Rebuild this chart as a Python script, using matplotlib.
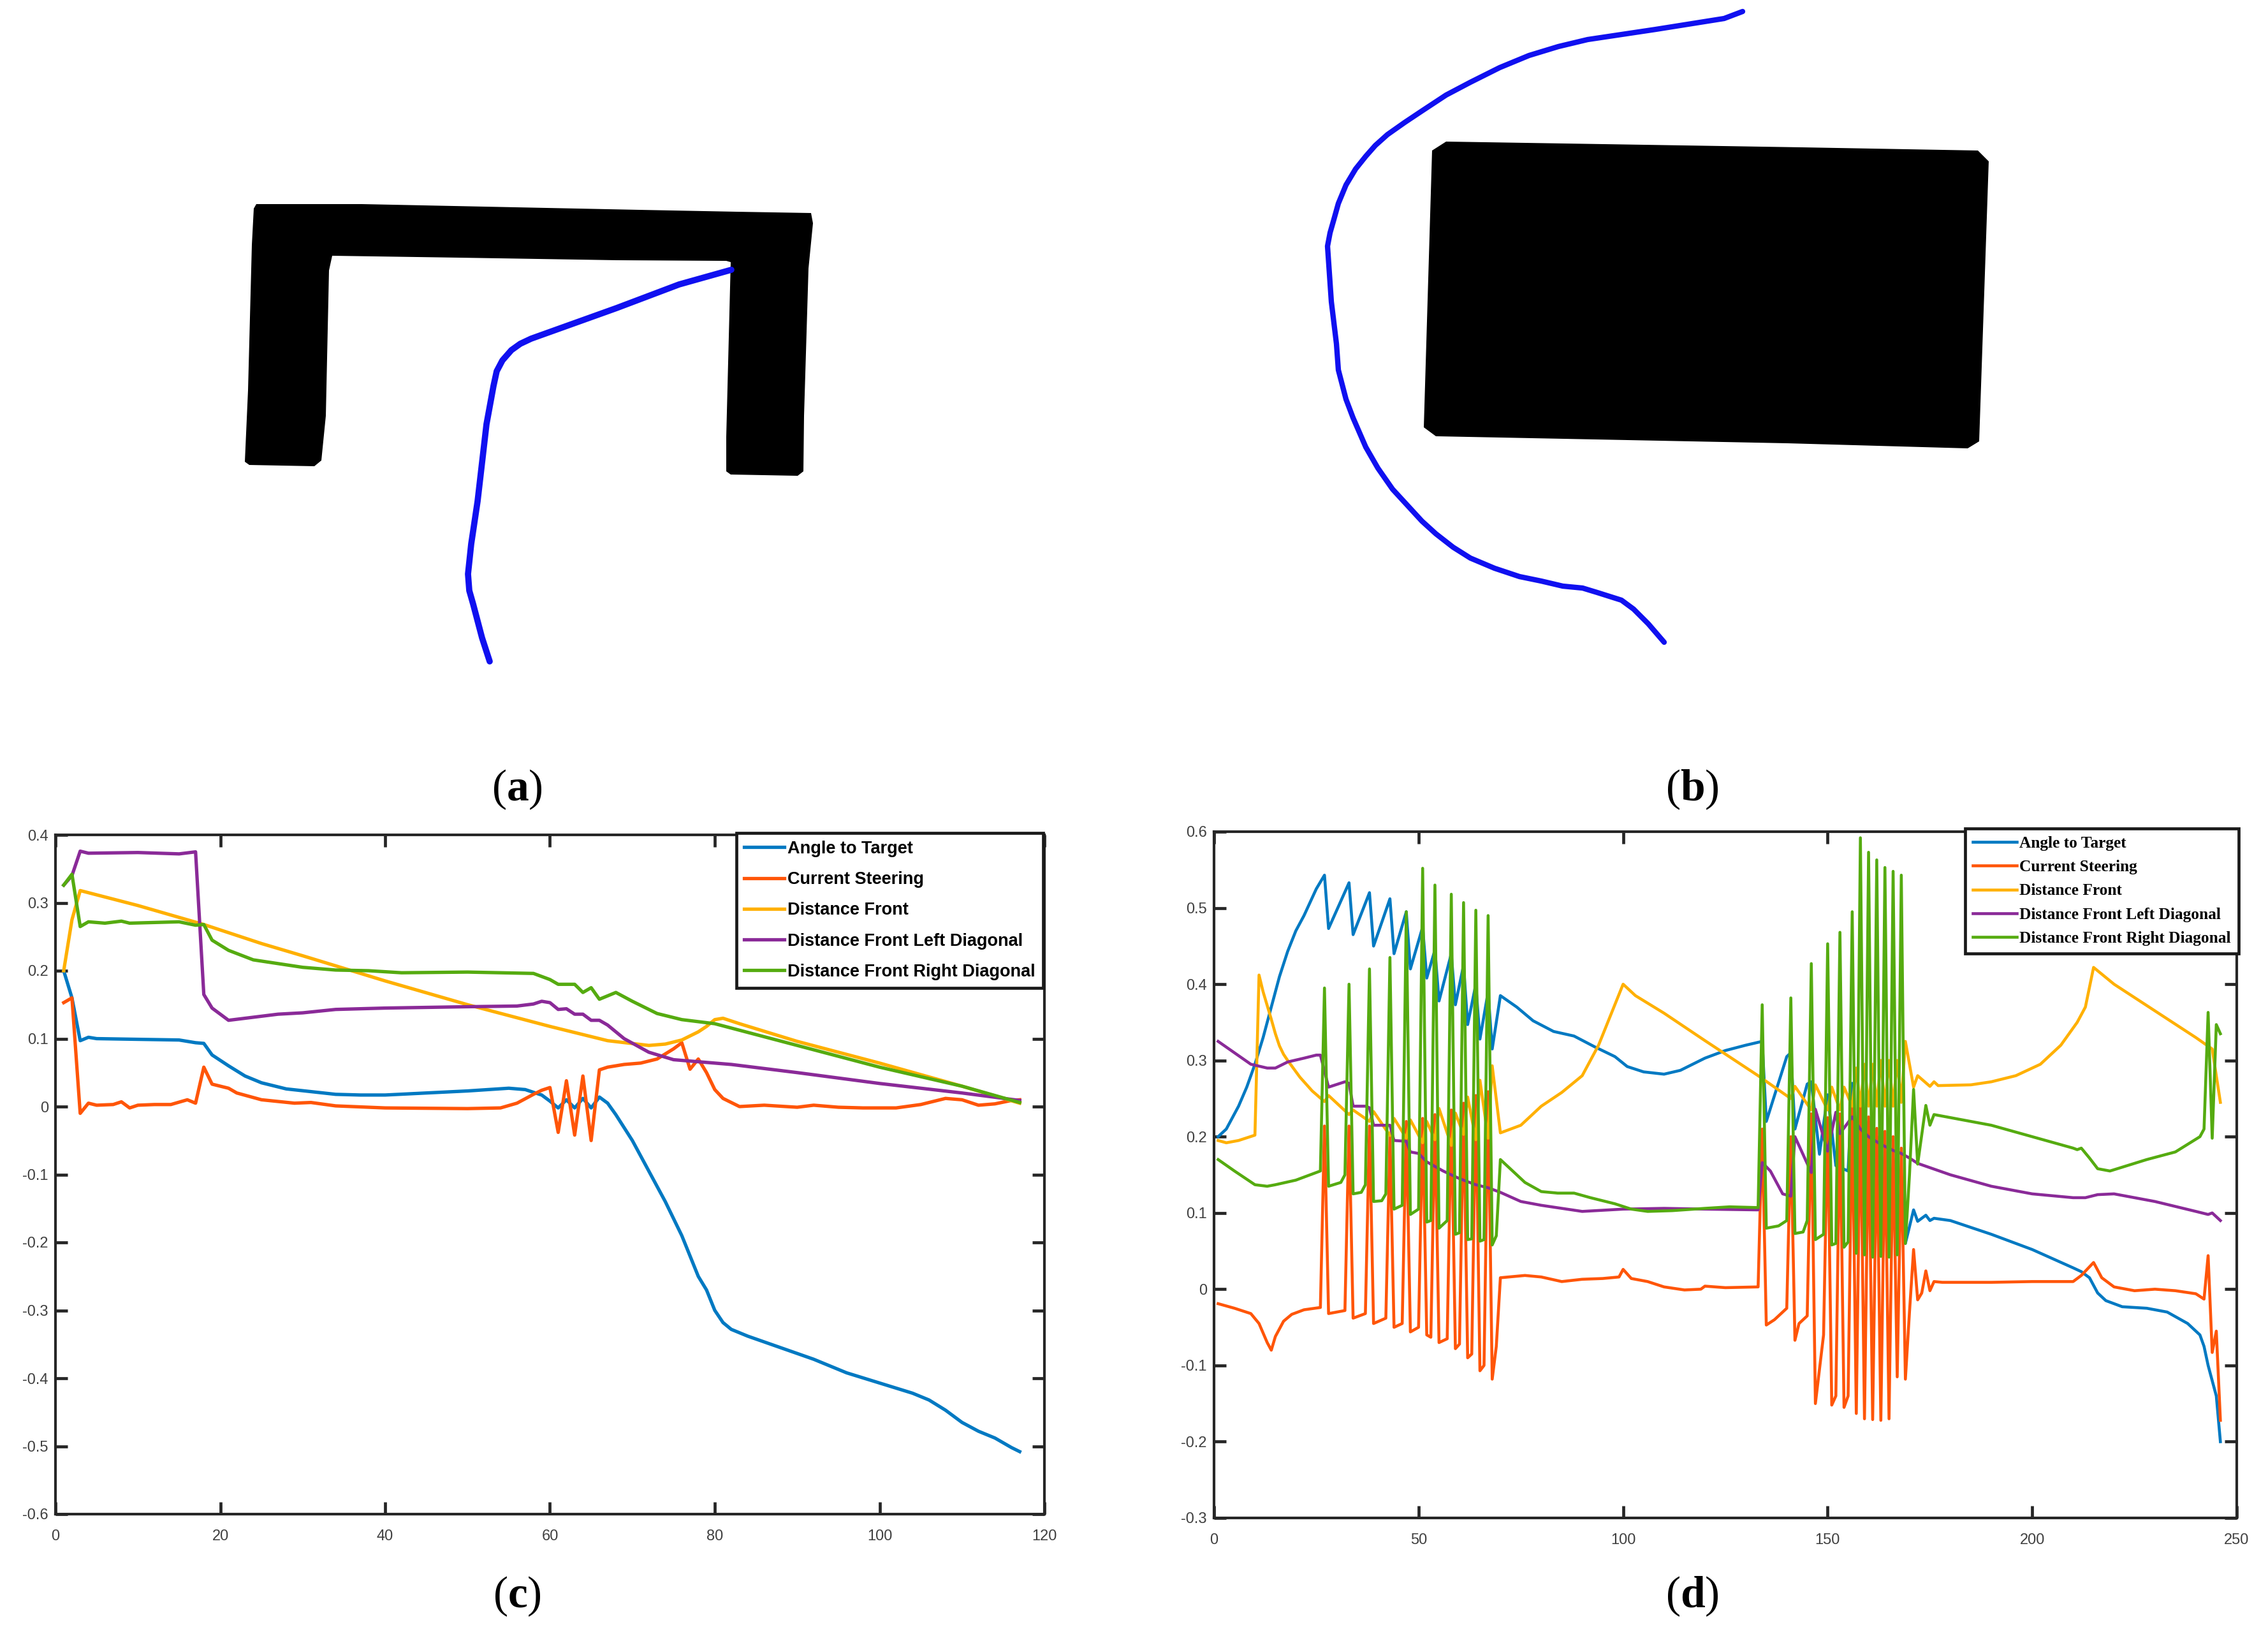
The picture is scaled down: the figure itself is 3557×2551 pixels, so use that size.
import matplotlib
matplotlib.use('Agg')
import matplotlib.pyplot as plt

W, H = 3557, 2551

# colours of the matlab lines as they look in the picture
colors = ['#0079C2', '#FF5508', '#FFB000', '#8A2A98', '#55AB10']
names = ['Angle to Target', 'Current Steering', 'Distance Front',
         'Distance Front Left Diagonal', 'Distance Front Right Diagonal']

# (a) and (b) are drawn in picture pixels
wall_a_x = [402, 567, 1002, 1156, 1272, 1275, 1268, 1261, 1260, 1251, 1146, 1139, 1139, 1146, 1139, 967, 721, 521, 516, 511, 504, 493, 391, 384, 389, 395, 398]
wall_a_y = [320, 320, 329, 332, 334, 350, 421, 652, 739, 746, 744, 739, 685, 411, 409, 408, 404, 401, 424, 652, 722, 731, 729, 724, 612, 384, 327]
path_a_x = [1147, 1065, 967, 833, 816, 802, 788, 779, 774, 763, 749, 739, 734, 736, 742, 756, 768]
path_a_y = [423, 446, 483, 531, 539, 549, 565, 582, 605, 665, 786, 853, 900, 926, 947, 1000, 1037]
block_b_x = [2268, 2826, 3102, 3119, 3104, 3086, 2803, 2252, 2233, 2246]
block_b_y = [222, 231, 236, 253, 692, 703, 695, 684, 670, 236]
path_b_x = [2733, 2704, 2597, 2490, 2444, 2398, 2352, 2306, 2268, 2230, 2203, 2176, 2157, 2142, 2126, 2111, 2099, 2092, 2086, 2082, 2088, 2096, 2099, 2111, 2122, 2142, 2161, 2184, 2207, 2230, 2252, 2279, 2306, 2344, 2383, 2417, 2451, 2482, 2505, 2543, 2562, 2585, 2610]
path_b_y = [18, 29, 46, 62, 73, 87, 106, 129, 149, 174, 192, 211, 228, 245, 265, 290, 319, 344, 365, 386, 473, 539, 580, 626, 655, 701, 734, 767, 792, 817, 837, 858, 875, 891, 904, 911, 919, 922, 929, 941, 955, 978, 1007]

# (c)
c_angle_x = [1, 2, 3, 4, 5, 10, 15, 17, 18, 19, 21, 23, 25, 28, 31, 34, 37, 40, 45, 50, 55, 57, 59, 60, 61, 62, 63, 64, 65, 66, 67, 68, 70, 72, 74, 76, 77, 78, 79, 80, 81, 82, 84, 88, 92, 96, 100, 104, 106, 108, 110, 112, 114, 116, 117]
c_angle_y = [.2, .16, .097, .102, .1, .099, .098, .094, .093, .076, .06, .045, .035, .026, .022, .018, .017, .017, .02, .023, .027, .025, .017, .008, -.002, .01, -.002, .012, -.002, .014, .005, -.012, -.05, -.095, -.14, -.19, -.22, -.25, -.27, -.3, -.318, -.328, -.338, -.355, -.372, -.392, -.407, -.422, -.432, -.447, -.465, -.478, -.488, -.502, -.508]
c_steer_x = [1, 2, 3, 4, 5, 7, 8, 9, 10, 12, 14, 16, 17, 18, 19, 21, 22, 25, 29, 31, 34, 40, 50, 54, 56, 58, 59, 60, 61, 62, 63, 64, 65, 66, 67, 69, 71, 73, 75, 76, 77, 78, 79, 80, 81, 83, 86, 90, 92, 95, 98, 102, 105, 108, 110, 112, 114, 116, 117]
c_steer_y = [.153, .16, -.01, .005, .002, .003, .007, -.002, .002, .003, .003, .01, .005, .058, .033, .027, .02, .01, .005, .006, .001, -.002, -.003, -.002, .005, .018, .024, .028, -.038, .038, -.042, .045, -.05, .054, .058, .062, .064, .07, .085, .094, .055, .07, .05, .025, .012, 0, .002, -.001, .002, -.001, -.002, -.002, .003, .012, .01, .002, .004, .009, .01]
c_front_x = [1, 2, 3, 10, 18, 25, 30, 40, 50, 60, 65, 67, 72, 74, 76, 78, 79, 80, 81, 83, 90, 100, 110, 117]
c_front_y = [.2, .275, .318, .296, .268, .24, .222, .185, .15, .118, .103, .097, .09, .092, .098, .11, .118, .128, .13, .122, .096, .064, .03, .005]
c_left_x = [1, 2, 3, 4, 10, 15, 17, 18, 19, 21, 23, 27, 30, 34, 40, 50, 56, 58, 59, 60, 61, 62, 63, 64, 65, 66, 67, 69, 72, 75, 78, 82, 90, 100, 110, 117]
c_left_y = [.326, .34, .376, .373, .374, .372, .375, .165, .145, .127, .13, .136, .138, .143, .145, .147, .148, .151, .155, .153, .143, .144, .136, .136, .127, .127, .12, .1, .08, .069, .066, .062, .05, .034, .02, .009]
c_right_x = [1, 2, 3, 4, 6, 8, 9, 15, 17, 18, 19, 21, 24, 30, 34, 38, 42, 50, 58, 60, 61, 63, 64, 65, 66, 68, 70, 73, 76, 80, 90, 100, 110, 117]
c_right_y = [.326, .342, .265, .272, .27, .273, .27, .272, .267, .268, .245, .23, .216, .205, .201, .2, .197, .198, .196, .187, .18, .18, .168, .175, .158, .168, .155, .137, .128, .122, .09, .058, .03, .006]

# (d)
d_angle_x = [1, 3, 4, 6, 8, 10, 12, 14, 16, 18, 20, 22, 25, 27, 28, 33, 34, 38, 39, 43, 44, 47, 48, 51, 52, 54, 55, 58, 59, 61, 62, 64, 65, 67, 68, 70, 74, 78, 83, 88, 93, 98, 101, 105, 110, 114, 120, 125, 130, 134, 135, 140, 141, 142, 145, 146, 148, 150, 152, 155, 156, 157, 158, 159, 160, 161, 162, 163, 164, 165, 166, 167, 168, 169, 171, 172, 174, 175, 176, 180, 190, 200, 210, 212, 214, 216, 218, 222, 228, 233, 238, 241, 242, 243, 244, 245, 246]
d_angle_y = [.2, .21, .22, .24, .265, .295, .33, .37, .41, .443, .47, .49, .525, .543, .473, .533, .465, .52, .45, .512, .44, .495, .42, .475, .408, .445, .378, .44, .373, .425, .347, .4, .328, .39, .315, .385, .37, .352, .338, .332, .318, .305, .292, .285, .282, .287, .303, .313, .32, .325, .22, .305, .31, .21, .269, .272, .177, .255, .162, .155, .27, .14, .24, .12, .22, .1, .2, .09, .18, .08, .16, .07, .14, .06, .104, .089, .097, .09, .093, .09, .072, .052, .028, .023, .015, -.005, -.015, -.023, -.025, -.03, -.045, -.06, -.075, -.1, -.12, -.14, -.2]
d_steer_x = [1, 5, 9, 11, 13, 14, 15, 17, 19, 22, 26, 27, 28, 32, 33, 34, 37, 38, 39, 42, 43, 44, 46, 47, 48, 50, 51, 52, 53, 54, 55, 57, 58, 59, 60, 61, 62, 63, 64, 65, 66, 67, 68, 69, 70, 72, 76, 80, 85, 90, 95, 99, 100, 102, 106, 110, 115, 119, 120, 125, 133, 134, 135, 137, 139, 140, 141, 142, 143, 145, 146, 147, 149, 150, 151, 152, 153, 154, 155, 156, 157, 158, 159, 160, 161, 162, 163, 164, 165, 166, 167, 168, 169, 170, 171, 172, 173, 174, 175, 176, 178, 190, 200, 210, 212, 215, 217, 220, 225, 230, 235, 240, 242, 243, 244, 245, 246]
d_steer_y = [-.019, -.025, -.032, -.045, -.07, -.08, -.062, -.042, -.033, -.027, -.024, .214, -.032, -.028, .214, -.038, -.032, .214, -.045, -.038, .201, -.05, -.045, .22, -.056, -.05, .224, -.06, -.063, .229, -.07, -.065, .235, -.078, -.072, .244, -.09, -.085, .254, -.107, -.1, .259, -.118, -.075, .015, .016, .018, .016, .01, .013, .014, .016, .026, .014, .01, .003, -.001, 0, .004, .002, .003, .21, -.047, -.04, -.03, -.025, .2, -.067, -.045, -.035, .23, -.15, -.06, .225, -.152, -.14, .23, -.155, -.14, .245, -.163, .25, -.17, .226, -.171, .211, -.172, .207, -.17, .2, -.115, .185, -.118, -.03, .052, -.014, -.005, .024, -.002, .01, .009, .009, .01, .01, .018, .035, .015, .003, -.002, 0, -.002, -.006, -.013, .044, -.083, -.055, -.172]
d_front_x = [1, 3, 6, 10, 11, 12, 13, 14, 15, 16, 17, 18, 21, 24, 27, 28, 33, 34, 38, 39, 43, 44, 47, 48, 51, 52, 54, 55, 58, 59, 61, 62, 64, 65, 67, 68, 70, 75, 80, 85, 90, 94, 97, 100, 103, 110, 120, 133, 141, 142, 146, 147, 150, 151, 153, 154, 156, 157, 158, 159, 160, 161, 162, 163, 164, 165, 166, 167, 168, 169, 171, 172, 175, 176, 177, 185, 190, 196, 202, 207, 211, 213, 215, 220, 230, 240, 244, 246]
d_front_y = [.195, .192, .195, .202, .412, .39, .372, .354, .335, .319, .308, .3, .278, .26, .246, .254, .229, .235, .22, .233, .2015, .224, .198, .222, .192, .22, .196, .237, .1885, .231, .203, .252, .196, .274, .198, .293, .205, .215, .24, .258, .28, .32, .36, .4, .385, .362, .326, .28, .25, .266, .235, .268, .235, .265, .235, .265, .24, .29, .24, .295, .24, .295, .24, .3, .24, .3, .24, .3, .245, .325, .265, .28, .266, .272, .267, .268, .272, .28, .295, .32, .35, .37, .422, .4, .365, .33, .315, .245]
d_left_x = [1, 5, 9, 13, 15, 18, 22, 25, 26, 28, 32, 33, 34, 37, 38, 39, 43, 44, 47, 48, 50, 52, 56, 60, 64, 67, 70, 75, 80, 90, 100, 110, 120, 133, 134, 136, 139, 141, 142, 146, 147, 150, 152, 153, 156, 158, 160, 163, 166, 168, 170, 172, 180, 190, 200, 210, 213, 216, 220, 230, 240, 243, 244, 246]
d_left_y = [.325, .31, .295, .29, .29, .298, .303, .307, .307, .265, .272, .27, .24, .24, .238, .215, .215, .195, .194, .18, .178, .167, .155, .145, .137, .133, .127, .115, .11, .102, .105, .106, .105, .104, .166, .155, .125, .122, .2, .153, .236, .181, .232, .204, .226, .21, .2, .19, .182, .178, .172, .165, .15, .135, .125, .12, .12, .124, .125, .115, .102, .098, .1, .09]
d_right_x = [1, 5, 10, 13, 15, 20, 26, 27, 28, 31, 32, 33, 34, 36, 37, 38, 39, 41, 42, 43, 44, 46, 47, 48, 50, 51, 52, 53, 54, 55, 57, 58, 59, 60, 61, 62, 63, 64, 65, 66, 67, 68, 69, 70, 72, 76, 80, 84, 88, 92, 98, 102, 106, 112, 120, 126, 133, 134, 135, 138, 140, 141, 142, 144, 145, 146, 147, 149, 150, 151, 152, 153, 154, 155, 156, 157, 158, 159, 160, 161, 162, 163, 164, 165, 166, 167, 168, 169, 170, 171, 172, 174, 175, 176, 190, 200, 210, 211, 212, 214, 216, 219, 222, 228, 235, 241, 242, 243, 244, 245, 246]
d_right_y = [.17, .155, .137, .135, .137, .143, .155, .395, .135, .14, .15, .4, .125, .127, .137, .42, .115, .116, .125, .435, .105, .11, .495, .098, .105, .552, .088, .09, .53, .08, .09, .518, .072, .074, .507, .065, .066, .497, .063, .065, .49, .058, .07, .17, .16, .14, .128, .126, .126, .12, .112, .105, .102, .103, .106, .108, .107, .373, .08, .083, .09, .382, .073, .075, .09, .427, .065, .072, .453, .058, .06, .468, .055, .062, .495, .047, .592, .045, .573, .042, .563, .043, .553, .042, .548, .045, .543, .06, .15, .262, .164, .241, .215, .229, .215, .2, .185, .183, .185, .172, .158, .155, .16, .17, .18, .2, .21, .363, .198, .347, .335]

c_xticks = [0, 20, 40, 60, 80, 100, 120]
c_yticks = [-.6, -.5, -.4, -.3, -.2, -.1, 0, .1, .2, .3, .4]
c_ylabels = ['-0.6', '-0.5', '-0.4', '-0.3', '-0.2', '-0.1', '0', '0.1', '0.2', '0.3', '0.4']
d_xticks = [0, 50, 100, 150, 200, 250]
d_yticks = [-.3, -.2, -.1, 0, .1, .2, .3, .4, .5, .6]
d_ylabels = ['-0.3', '-0.2', '-0.1', '0', '0.1', '0.2', '0.3', '0.4', '0.5', '0.6']

plt.rcParams['font.family'] = 'Liberation Sans'
plt.rcParams['mathtext.fontset'] = 'custom'
plt.rcParams['mathtext.rm'] = 'Liberation Serif'
plt.rcParams['mathtext.bf'] = 'Liberation Serif:bold'

fig = plt.figure(figsize=(W / 100, H / 100), dpi=100)


def pixel_axes(left, top, right, bottom):
    return fig.add_axes([left / W, 1 - bottom / H, (right - left) / W, (bottom - top) / H])


# background layer for the two maps and the captions
bg = fig.add_axes([0, 0, 1, 1])
bg.set_xlim(0, W)
bg.set_ylim(H, 0)
bg.axis('off')
bg.fill(wall_a_x, wall_a_y, color='black', lw=0)
bg.fill(block_b_x, block_b_y, color='black', lw=0)
bg.plot(path_a_x, path_a_y, color='#1010F0', lw=7, solid_capstyle='round', solid_joinstyle='round')
bg.plot(path_b_x, path_b_y, color='#1010F0', lw=6, solid_capstyle='round', solid_joinstyle='round')
for x, y, letter in [(811, 1238, 'a'), (2654, 1238, 'b'), (811, 2503, 'c'), (2654, 2503, 'd')]:
    bg.text(x, y, '$\\mathrm{(}\\mathbf{%s}\\mathrm{)}$' % letter, fontsize=50, ha='center', va='center', color='black')


def draw_panel(ax, series, xlim, ylim, xticks, yticks, ylabels, line_w):
    for (xs, ys), col, name in zip(series, colors, names):
        ax.plot(xs, ys, color=col, lw=line_w, label=name, solid_joinstyle='round')
    ax.set_xlim(*xlim)
    ax.set_ylim(*ylim)
    ax.set_xticks(xticks)
    ax.set_xticklabels([str(t) for t in xticks])
    ax.set_yticks(yticks)
    ax.set_yticklabels(ylabels)
    ax.tick_params(direction='in', top=True, right=True, length=14, width=3.4, color='#262626',
                   labelcolor='#404040', labelsize=17)
    ax.tick_params(axis='x', pad=17)
    ax.tick_params(axis='y', pad=8)
    for s in ax.spines.values():
        s.set_linewidth(3)
        s.set_color('#262626')


ax_c = pixel_axes(87, 1309, 1638, 2374)
draw_panel(ax_c, [(c_angle_x, c_angle_y), (c_steer_x, c_steer_y), (c_front_x, c_front_y),
                  (c_left_x, c_left_y), (c_right_x, c_right_y)],
           (0, 120), (-.6, .4), c_xticks, c_yticks, c_ylabels, 3.8)
leg = ax_c.legend(loc='upper right', bbox_to_anchor=(1636 / W, 1 - 1306 / H), bbox_transform=fig.transFigure,
                  prop={'family': 'Liberation Sans', 'weight': 'bold', 'size': 19.5}, fancybox=False, framealpha=1,
                  edgecolor='#1a1a1a', borderaxespad=0, borderpad=0.44, labelspacing=0.82,
                  handlelength=2.33, handletextpad=0.2)
leg.get_frame().set_linewidth(3.4)

ax_d = pixel_axes(1904, 1304, 3508, 2380)
draw_panel(ax_d, [(d_angle_x, d_angle_y), (d_steer_x, d_steer_y), (d_front_x, d_front_y),
                  (d_left_x, d_left_y), (d_right_x, d_right_y)],
           (0, 250), (-.3, .6), d_xticks, d_yticks, d_ylabels, 3.3)
leg = ax_d.legend(loc='upper right', bbox_to_anchor=(3511 / W, 1 - 1299 / H), bbox_transform=fig.transFigure,
                  prop={'family': 'Liberation Serif', 'weight': 'bold', 'size': 18.3}, fancybox=False, framealpha=1,
                  edgecolor='#1a1a1a', borderaxespad=0, borderpad=0.47, labelspacing=0.56,
                  handlelength=2.7, handletextpad=0.18)
leg.get_frame().set_linewidth(3.4)

fig.savefig('out.png', dpi=100)
